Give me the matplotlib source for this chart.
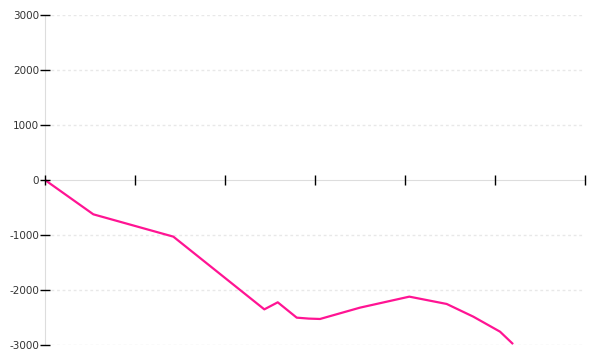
import matplotlib
matplotlib.use("Agg")
import matplotlib.pyplot as plt

# values (x in tick units, y in value units)
x_vals = [0, 0.537, 1.426, 2.437, 2.586, 2.797, 2.93, 3.056, 3.5, 4.048, 4.463, 4.759, 5.056, 5.192]
y_vals = [0, -624, -1030, -2352, -2224, -2503, -2520, -2527, -2321, -2121, -2254, -2485, -2758, -2970]
y_ticks = [-3000, -2000, -1000, 0, 1000, 2000, 3000]
x_ticks = [0, 1, 2, 3, 4, 5, 6]

fig = plt.figure(figsize=(6, 3.6), dpi=100)
ax = fig.add_axes([0.075, 0.0417, 0.9, 0.9166])

# dashed grid lines, skipping zero (the axis sits there)
for y in y_ticks:
    if y != 0:
        ax.plot([0.07, 5.98], [y, y], color="#e8e8e8", linewidth=1,
                dashes=(2, 2), zorder=1)

ax.plot(x_vals, y_vals, color="#ff1493", linewidth=1.6, zorder=2)

ax.set_xlim(0, 6)
ax.set_ylim(-3000, 3000)

ax.spines["top"].set_visible(False)
ax.spines["right"].set_visible(False)
ax.spines["bottom"].set_position(("data", 0))
for s in ("bottom", "left"):
    ax.spines[s].set_color("#dddddd")
    ax.spines[s].set_zorder(1.5)

ax.set_xticks(x_ticks)
ax.set_xticklabels([])
ax.set_yticks(y_ticks)
ax.set_yticklabels([str(v) for v in y_ticks])
ax.tick_params(axis="x", direction="inout", length=7, width=1, color="black")
ax.tick_params(axis="y", direction="inout", length=6.5, width=1, color="black",
               labelsize=7.5, labelcolor="#333333", pad=1)
ax.set_axisbelow(False)

fig.savefig("out.png", dpi=100)
